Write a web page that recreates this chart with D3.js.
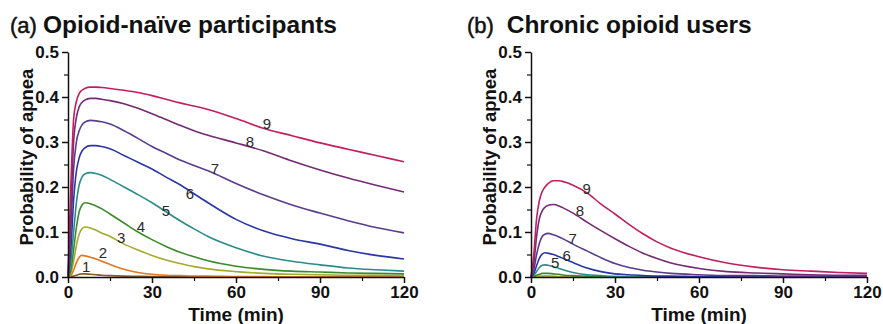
<!DOCTYPE html>
<html>
<head>
<meta charset="utf-8">
<script src="https://cdn.jsdelivr.net/npm/d3@7"></script>
<style>
  body { margin: 0; background: #fff; }
  svg { display: block; font-family: "Liberation Sans", Arial, Helvetica, sans-serif; }
  .axis path, .axis line { stroke: #111; stroke-width: 1.5; }
  .axis text { font-size: 17px; font-weight: bold; fill: #111; }
  .minor path { display: none; }
  .minor line { stroke: #111; stroke-width: 1.2; }
</style>
</head>
<body>
<div id="chart"></div>
<script>
// time grid (min)
const times = [0, 1, 2, 3, 4, 5, 6, 8, 10, 12, 15, 20, 25, 30, 35, 40, 45, 50, 60, 70, 80, 90, 100, 110, 120];

// (a) opioid-naive, curves 1..9
const naive1 = [0, 0.001, 0.002, 0.004, 0.006, 0.007, 0.007, 0.006, 0.005, 0.004, 0.003, 0.002, 0.0015, 0.001, 0.001, 0.0005, 0, 0, 0, 0, 0, 0, 0, 0, 0];
const naive2 = [0, 0.003, 0.015, 0.032, 0.044, 0.048, 0.047, 0.044, 0.04, 0.035, 0.028, 0.017, 0.01, 0.006, 0.004, 0.003, 0.002, 0.002, 0.001, 0.001, 0, 0, 0, 0, 0];
const naive3 = [0, 0.008, 0.035, 0.07, 0.095, 0.107, 0.111, 0.109, 0.104, 0.098, 0.09, 0.073, 0.06, 0.048, 0.038, 0.03, 0.023, 0.018, 0.012, 0.008, 0.006, 0.005, 0.004, 0.004, 0.003];
const naive4 = [0, 0.015, 0.06, 0.11, 0.145, 0.16, 0.165, 0.163, 0.158, 0.152, 0.14, 0.12, 0.1, 0.083, 0.068, 0.055, 0.045, 0.036, 0.024, 0.017, 0.013, 0.011, 0.009, 0.008, 0.007];
const naive5 = [0, 0.03, 0.1, 0.165, 0.205, 0.222, 0.229, 0.232, 0.23, 0.226, 0.217, 0.2, 0.183, 0.165, 0.145, 0.125, 0.107, 0.09, 0.065, 0.046, 0.035, 0.027, 0.02, 0.016, 0.013];
const naive6 = [0, 0.06, 0.17, 0.235, 0.265, 0.28, 0.287, 0.292, 0.292, 0.29, 0.285, 0.27, 0.255, 0.24, 0.222, 0.205, 0.185, 0.165, 0.128, 0.102, 0.085, 0.073, 0.059, 0.048, 0.04];
const naive7 = [0, 0.1, 0.24, 0.3, 0.325, 0.338, 0.344, 0.348, 0.347, 0.345, 0.34, 0.325, 0.308, 0.29, 0.275, 0.26, 0.248, 0.236, 0.208, 0.182, 0.16, 0.142, 0.125, 0.11, 0.098];
const naive8 = [0, 0.15, 0.3, 0.355, 0.378, 0.388, 0.393, 0.397, 0.397, 0.395, 0.392, 0.385, 0.375, 0.363, 0.35, 0.337, 0.325, 0.315, 0.298, 0.28, 0.258, 0.238, 0.22, 0.204, 0.189];
const naive9 = [0, 0.2, 0.35, 0.39, 0.408, 0.415, 0.419, 0.422, 0.422, 0.421, 0.419, 0.415, 0.41, 0.403, 0.395, 0.387, 0.38, 0.372, 0.352, 0.33, 0.314, 0.298, 0.284, 0.27, 0.256];

// (b) chronic users, curves 1..9
const chronic1 = [0, 0, 0, 0.0003, 0.0004, 0.0004, 0.0004, 0.0003, 0.0002, 0.0001, 0, 0, 0, 0, 0, 0, 0, 0, 0, 0, 0, 0, 0, 0, 0];
const chronic2 = [0, 0, 0.0003, 0.0006, 0.0008, 0.0008, 0.0008, 0.0006, 0.0004, 0.0003, 0.0002, 0, 0, 0, 0, 0, 0, 0, 0, 0, 0, 0, 0, 0, 0];
const chronic3 = [0, 0, 0.001, 0.002, 0.002, 0.002, 0.002, 0.002, 0.001, 0.001, 0.001, 0, 0, 0, 0, 0, 0, 0, 0, 0, 0, 0, 0, 0, 0];
const chronic4 = [0, 0.001, 0.004, 0.006, 0.008, 0.008, 0.008, 0.007, 0.006, 0.004, 0.003, 0.002, 0.001, 0.001, 0, 0, 0, 0, 0, 0, 0, 0, 0, 0, 0];
const chronic5 = [0, 0.004, 0.012, 0.021, 0.026, 0.027, 0.026, 0.023, 0.019, 0.015, 0.01, 0.005, 0.003, 0.001, 0.001, 0, 0, 0, 0, 0, 0, 0, 0, 0, 0];
const chronic6 = [0, 0.008, 0.025, 0.042, 0.051, 0.054, 0.053, 0.05, 0.045, 0.04, 0.032, 0.02, 0.012, 0.007, 0.005, 0.003, 0.002, 0.002, 0.001, 0.001, 0, 0, 0, 0, 0];
const chronic7 = [0, 0.015, 0.05, 0.075, 0.09, 0.095, 0.097, 0.094, 0.089, 0.083, 0.073, 0.058, 0.043, 0.03, 0.021, 0.015, 0.011, 0.008, 0.005, 0.003, 0.003, 0.002, 0.002, 0.002, 0.002];
const chronic8 = [0, 0.03, 0.09, 0.13, 0.147, 0.155, 0.159, 0.161, 0.158, 0.152, 0.142, 0.122, 0.103, 0.085, 0.068, 0.053, 0.041, 0.031, 0.019, 0.012, 0.009, 0.007, 0.005, 0.004, 0.004];
const chronic9 = [0, 0.05, 0.13, 0.17, 0.19, 0.2, 0.207, 0.214, 0.214, 0.211, 0.204, 0.187, 0.162, 0.14, 0.117, 0.096, 0.078, 0.064, 0.045, 0.031, 0.022, 0.016, 0.013, 0.01, 0.008];

const colors = ['#8a5a24', '#e3771d', '#a6a92c', '#3b8a2c', '#2b8a8c', '#2a35a8', '#5c3b8f', '#742a74', '#c21f5c'];

// curve number labels: [curve, time, probability]
const naiveLabels = [[1, 6.5, 0.023], [2, 12.5, 0.053], [3, 19, 0.088], [4, 26, 0.112], [5, 35, 0.147], [6, 43.5, 0.184], [7, 52.5, 0.24], [8, 65, 0.30], [9, 71, 0.341]];
const chronicLabels = [[5, 8.6, 0.032], [6, 12.7, 0.047], [7, 14.9, 0.086], [8, 17.5, 0.147], [9, 19.9, 0.197]];

const xTicks = [0, 30, 60, 90, 120];
const xMinor = [15, 45, 75, 105];
const yTicks = [0, 0.1, 0.2, 0.3, 0.4, 0.5];
const yMinor = [0.05, 0.15, 0.25, 0.35, 0.45];

const W = 883, H = 324;
const svg = d3.select('#chart').append('svg').attr('width', W).attr('height', H);

function drawPanel(left, tagX, tag, title, series, labels) {
  const x = d3.scaleLinear().domain([0, 120]).range([left, left + 336]);
  const y = d3.scaleLinear().domain([0, 0.5]).range([277, 52]);
  const g = svg.append('g');

  const line = d3.line()
    .x((d, i) => x(times[i]))
    .y(d => y(d))
    .curve(d3.curveMonotoneX);

  g.selectAll('path.curve')
    .data(series)
    .enter()
    .append('path')
    .attr('class', 'curve')
    .attr('d', d => line(d))
    .attr('fill', 'none')
    .attr('stroke', (d, i) => colors[i])
    .attr('stroke-width', 1.6);

  g.append('g').attr('class', 'axis minor').attr('transform', 'translate(0,277)')
    .call(d3.axisBottom(x).tickValues(xMinor).tickSize(4).tickFormat(''));
  g.append('g').attr('class', 'axis minor').attr('transform', 'translate(' + left + ',0)')
    .call(d3.axisLeft(y).tickValues(yMinor).tickSize(4).tickFormat(''));

  g.append('g').attr('class', 'axis').attr('transform', 'translate(0,277)')
    .call(d3.axisBottom(x).tickValues(xTicks).tickSize(6).tickSizeOuter(0).tickPadding(3));
  g.append('g').attr('class', 'axis').attr('transform', 'translate(' + left + ',0)')
    .call(d3.axisLeft(y).tickValues(yTicks).tickSize(6).tickSizeOuter(0).tickPadding(3).tickFormat(d3.format('.1f')));

  g.selectAll('text.lbl')
    .data(labels)
    .enter()
    .append('text')
    .attr('class', 'lbl')
    .attr('x', d => x(d[1]))
    .attr('y', d => y(d[2]))
    .attr('dy', '0.35em')
    .attr('text-anchor', 'middle')
    .attr('font-size', 15)
    .attr('fill', '#2a2a2a')
    .text(d => d[0]);

  g.append('text')
    .attr('x', (x(0) + x(120)) / 2)
    .attr('y', 321)
    .attr('text-anchor', 'middle')
    .attr('font-size', 19)
    .attr('font-weight', 'bold')
    .attr('fill', '#111')
    .text('Time (min)');

  g.append('text')
    .attr('transform', 'translate(' + (left - 35) + ',157) rotate(-90)')
    .attr('text-anchor', 'middle')
    .attr('font-size', 18.5)
    .attr('font-weight', 'bold')
    .attr('fill', '#111')
    .text('Probability of apnea');

  const t = g.append('text')
    .attr('x', tagX)
    .attr('y', 33)
    .attr('fill', '#111');
  t.append('tspan').attr('font-size', 22).attr('stroke', '#111').attr('stroke-width', 0.5).text(tag);
  t.append('tspan').attr('font-size', 24.5).attr('font-weight', 'bold').attr('dx', 6).text(title);
}

drawPanel(68, 10, '(a)', 'Opioid-naïve participants',
  [naive1, naive2, naive3, naive4, naive5, naive6, naive7, naive8, naive9], naiveLabels);
drawPanel(531, 467, '(b)', ' Chronic opioid users',
  [chronic1, chronic2, chronic3, chronic4, chronic5, chronic6, chronic7, chronic8, chronic9], chronicLabels);
</script>
</body>
</html>
